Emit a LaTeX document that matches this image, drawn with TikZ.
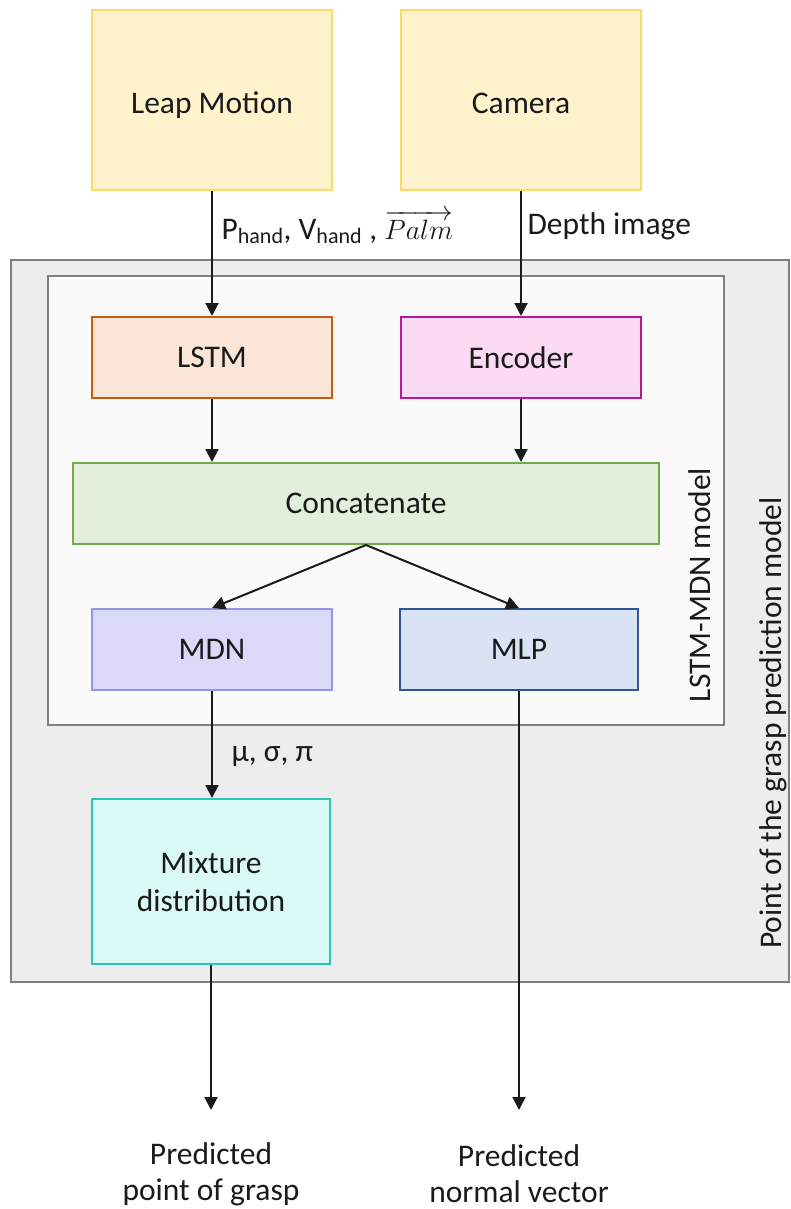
\RequirePackage{fix-cm}
\documentclass[tikz,border=0pt]{standalone}
\usepackage{fontspec}
\setmainfont{Carlito}
\usetikzlibrary{arrows.meta}

\definecolor{leapfill}{HTML}{FFF2CC}
\definecolor{leapdraw}{HTML}{FFD966}
\definecolor{lstmfill}{HTML}{FBE5D6}
\definecolor{lstmdraw}{HTML}{C55A11}
\definecolor{encfill}{HTML}{FCDAF4}
\definecolor{encdraw}{HTML}{B5179E}
\definecolor{catfill}{HTML}{E2EFDA}
\definecolor{catdraw}{HTML}{70AD47}
\definecolor{mdnfill}{HTML}{DADAF8}
\definecolor{mdndraw}{HTML}{9494EE}
\definecolor{mlpfill}{HTML}{DAE3F3}
\definecolor{mlpdraw}{HTML}{2F5597}
\definecolor{mixfill}{HTML}{DAFAF8}
\definecolor{mixdraw}{HTML}{2EC4B6}
\definecolor{outerfill}{HTML}{EDEDED}
\definecolor{innerfill}{HTML}{FAFAFA}
\definecolor{framedraw}{HTML}{808080}
\definecolor{ink}{HTML}{1A1A1A}

\tikzset{
  txt/.style={font=\fontsize{31.5}{36}\selectfont, text=ink, align=center},
  block/.style={txt, draw, line width=2pt, inner sep=0pt,
                minimum width=240pt, minimum height=81pt},
  sensor/.style={block, fill=leapfill, draw=leapdraw, minimum height=180pt,
                 text height=30pt, text depth=2pt},
  flow/.style={line width=2pt, draw=ink,
               -{Triangle[length=13pt,width=13pt]}},
  frame/.style={line width=2pt, draw=framedraw}
}

\begin{document}
\begin{tikzpicture}[x=1pt,y=-1pt]
\useasboundingbox (0,0) rectangle (790,1209);

% enclosing model frames
\draw[frame, fill=outerfill] (11,260) rectangle (789,982);
\draw[frame, fill=innerfill] (48,276) rectangle (724,725);
\node[txt, rotate=90] (innerlabel) at (700,585) {LSTM-MDN model};
\node[txt, rotate=90] (outerlabel) at (773,723) {Point of the grasp prediction model};

% sensors
\node[sensor] (leap) at (212,100) {Leap Motion};
\node[sensor] (cam) at (521,100) {Camera};

% network blocks
\node[block, fill=lstmfill, draw=lstmdraw] (lstm) at (212,357.5) {LSTM};
\node[block, fill=encfill, draw=encdraw] (enc) at (521,357.5) {Encoder};
\node[block, fill=catfill, draw=catdraw, minimum width=586pt] (cat) at (366,503.5) {Concatenate};
\node[block, fill=mdnfill, draw=mdndraw] (mdn) at (212,649.5) {MDN};
\node[block, fill=mlpfill, draw=mlpdraw, minimum width=238pt] (mlp) at (519,649.5) {MLP};
\node[block, fill=mixfill, draw=mixdraw, minimum width=238pt, minimum height=165pt,
      font=\fontsize{31.5}{38}\selectfont] (mix) at (211,881.5) {Mixture\\distribution};

% outputs
\coordinate (gend) at (211,1110);
\coordinate (nend) at (519,1110);
\node[txt, inner sep=0pt] (grasp) at (211,1174) {Predicted\\point of grasp};
\node[txt, inner sep=0pt] (normal) at (519,1174) {Predicted\\normal vector};

% connectors
\draw[flow] (leap) -- (lstm);
\draw[flow] (cam) -- (enc);
\draw[flow] (lstm) -- (lstm |- cat.north);
\draw[flow] (enc) -- (enc |- cat.north);
\draw[flow] (cat.south) -- (mdn.north);
\draw[flow] (cat.south) -- (mlp.north);
\draw[flow] (mdn) -- (mdn |- mix.north);
\draw[flow] (mix) -- (gend);
\draw[flow] (mlp) -- (nend);

% connector labels
\node[txt, anchor=base west] (leaplabel) at (218,239)
  {P\textsubscript{hand}, V\textsubscript{hand} ,
   {\fontsize{28}{30}\selectfont$\overrightarrow{Palm}$}};
\node[txt, anchor=west] (camlabel) at (524,226) {Depth image};
\node[txt, anchor=west] (mdnlabel) at (228,757) {μ, σ, π};
\end{tikzpicture}
\end{document}
